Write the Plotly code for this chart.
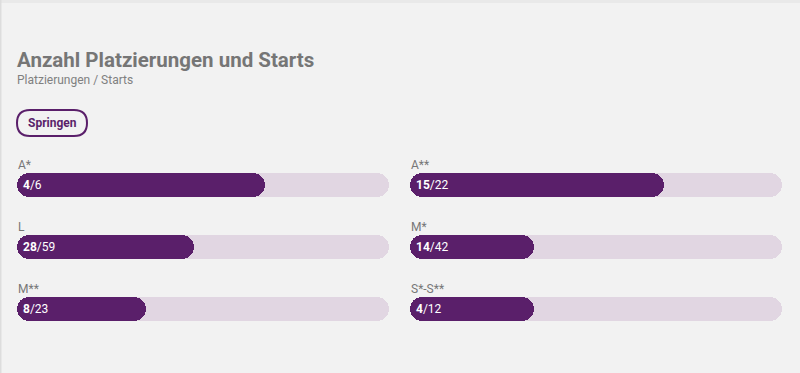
import plotly.graph_objects as go
from plotly.subplots import make_subplots

categories = ["A*", "A**", "L", "M*", "M**", "S*-S**"]
placements = [4, 15, 28, 14, 8, 4]
starts = [6, 22, 59, 42, 23, 12]

W, H = 800, 373
PURPLE = "#5a1f6a"
TRACK = "#e1d6e2"
BG = "#f2f2f2"
FONT = "Roboto"

col_x = [(17, 389), (410, 782)]
row_y = [(173, 197), (235, 259), (297, 321)]

def px(x):
    return x / W

def py(y):
    return 1 - y / H

fig = make_subplots(rows=3, cols=2)
annotations = []
for i, (cat, p, s) in enumerate(zip(categories, placements, starts)):
    r, c = divmod(i, 2)
    x0, x1 = col_x[c]
    y0, y1 = row_y[r]
    idx = i + 1
    xa = "xaxis" if idx == 1 else f"xaxis{idx}"
    ya = "yaxis" if idx == 1 else f"yaxis{idx}"
    xref = "x" if idx == 1 else f"x{idx}"
    yref = "y" if idx == 1 else f"y{idx}"
    for val, color in ((s, TRACK), (p, PURPLE)):
        fig.add_trace(go.Bar(x=[val], base=[0], y=[0], orientation="h", width=1,
                             marker=dict(color=color, cornerradius=12, line=dict(width=0)),
                             hoverinfo="skip", showlegend=False), row=r + 1, col=c + 1)
    fig.layout[xa].update(domain=[px(x0), px(x1)], range=[0, s], visible=False, fixedrange=True)
    fig.layout[ya].update(domain=[py(y1), py(y0)], range=[-0.5, 0.5], visible=False, fixedrange=True)
    annotations.append(dict(xref="paper", yref="paper", x=px(x0 - 1), y=py(y0 - 8),
                            text=cat, showarrow=False, xanchor="left", yanchor="middle",
                            font=dict(family=FONT, size=12, color="#777777")))
    annotations.append(dict(xref=xref, yref=yref, x=0, y=0, xshift=4,
                            text=f"<b>{p}</b>/{s}", showarrow=False, xanchor="left", yanchor="middle",
                            font=dict(family=FONT, size=12, color="white")))

annotations.append(dict(xref="paper", yref="paper", x=px(15), y=py(60),
                        text="<b>Anzahl Platzierungen und Starts</b>", showarrow=False,
                        xanchor="left", yanchor="middle",
                        font=dict(family=FONT, size=20.5, color="#767676")))
annotations.append(dict(xref="paper", yref="paper", x=px(15), y=py(80),
                        text="Platzierungen / Starts", showarrow=False,
                        xanchor="left", yanchor="middle",
                        font=dict(family=FONT, size=12, color="#808080")))
annotations.append(dict(xref="paper", yref="paper", x=px(52), y=py(123),
                        text="<b>Springen</b>", showarrow=False,
                        xanchor="center", yanchor="middle",
                        font=dict(family=FONT, size=12, color=PURPLE)))

bx0, bx1, by0, by1, rr = 17, 87, 110, 136, 13
path = (f"M {px(bx0+rr)},{py(by0)} L {px(bx1-rr)},{py(by0)} "
        f"Q {px(bx1)},{py(by0)} {px(bx1)},{py(by0+rr)} "
        f"Q {px(bx1)},{py(by1)} {px(bx1-rr)},{py(by1)} "
        f"L {px(bx0+rr)},{py(by1)} "
        f"Q {px(bx0)},{py(by1)} {px(bx0)},{py(by0+rr)} "
        f"Q {px(bx0)},{py(by0)} {px(bx0+rr)},{py(by0)} Z")
shapes = [
    dict(type="path", xref="paper", yref="paper", path=path,
         line=dict(color=PURPLE, width=2), fillcolor="rgba(0,0,0,0)"),
    dict(type="rect", xref="paper", yref="paper", x0=0, x1=1, y0=py(3), y1=1,
         fillcolor="#e9e9e9", line=dict(width=0), layer="below"),
    dict(type="rect", xref="paper", yref="paper", x0=0, x1=px(1.5), y0=0, y1=1,
         fillcolor="#dddddd", line=dict(width=0), layer="below"),
]

fig.update_layout(width=W, height=H, margin=dict(l=0, r=0, t=0, b=0),
                  paper_bgcolor=BG, plot_bgcolor="rgba(0,0,0,0)",
                  barmode="overlay", bargap=0, showlegend=False,
                  annotations=annotations, shapes=shapes,
                  font=dict(family=FONT))
fig.write_html("out.html", config={"displayModeBar": False},
               post_script="document.body.style.margin='0px';document.body.style.overflow='hidden';document.body.style.background='#f2f2f2';")
